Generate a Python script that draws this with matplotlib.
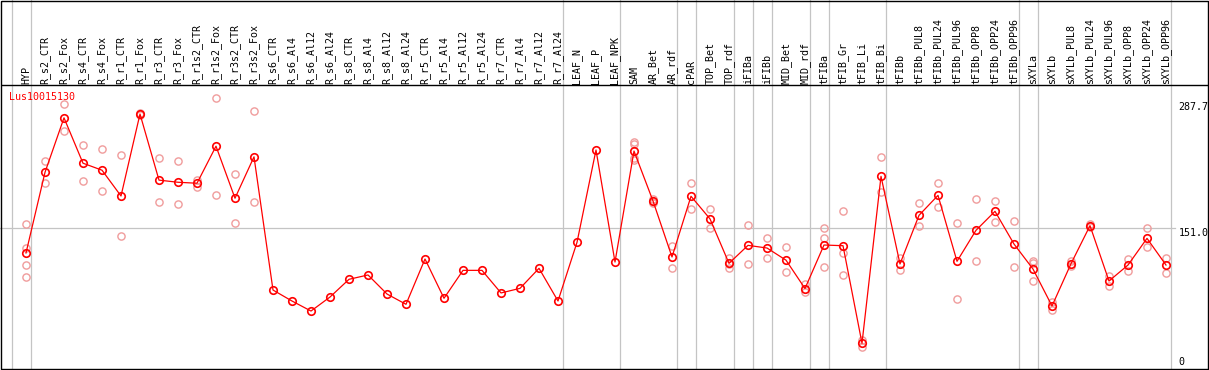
import matplotlib
matplotlib.use("Agg")
import matplotlib.pyplot as plt

# ---------------- data ----------------
categories = ["HYP", "R_s2_CTR", "R_s2_Fox", "R_s4_CTR", "R_s4_Fox", "R_r1_CTR", "R_r1_Fox",
              "R_r3_CTR", "R_r3_Fox", "R_r1s2_CTR", "R_r1s2_Fox", "R_r3s2_CTR", "R_r3s2_Fox",
              "R_s6_CTR", "R_s6_Al4", "R_s6_Al12", "R_s6_Al24", "R_s8_CTR", "R_s8_Al4",
              "R_s8_Al12", "R_s8_Al24", "R_r5_CTR", "R_r5_Al4", "R_r5_Al12", "R_r5_Al24",
              "R_r7_CTR", "R_r7_Al4", "R_r7_Al12", "R_r7_Al24", "LEAF_N", "LEAF_P", "LEAF_NPK",
              "SAM", "AR_Bet", "AR_rdf", "cPAR", "TOP_Bet", "TOP_rdf", "iFIBa", "iFIBb",
              "MID_Bet", "MID_rdf", "tFIBa", "tFIB_Gr", "tFIB_Li", "tFIB_Bi", "tFIBb",
              "tFIBb_PUL8", "tFIBb_PUL24", "tFIBb_PUL96", "tFIBb_OPP8", "tFIBb_OPP24",
              "tFIBb_OPP96", "sXYLa", "sXYLb", "sXYLb_PUL8", "sXYLb_PUL24", "sXYLb_PUL96",
              "sXYLb_OPP8", "sXYLb_OPP24", "sXYLb_OPP96"]

mean_values = [123.0, 214.0, 275.5, 224.3, 216.4, 187.3, 279.8, 205.2, 202.8, 201.7, 243.5,
               184.8, 231.5, 81.2, 68.8, 57.5, 73.3, 93.3, 98.2, 76.7, 65.1, 116.2, 71.9,
               103.4, 103.4, 77.9, 83.1, 105.7, 68.8, 135.0, 239.2, 112.8, 238.0, 181.7,
               118.5, 187.0, 161.5, 111.3, 131.6, 128.6, 114.9, 82.9, 132.0, 131.2, 21.1,
               209.5, 110.6, 165.5, 188.0, 113.6, 148.6, 170.0, 133.1, 104.9, 63.2, 110.9,
               153.8, 91.4, 109.4, 139.5, 109.4]

replicates = [
    [155.3, 129.0, 109.4, 95.5], [226.8, 201.6], [290.7, 260.3], [244.5, 204.2],
    [240.0, 193.0], [233.2, 141.8], [281.0, 279.0], [229.8, 180.2], [226.8, 177.9],
    [205.7, 197.1], [297.5, 188.0], [212.1, 156.5], [282.8, 180.5],
    [], [], [], [], [], [], [], [], [], [], [], [], [], [], [], [], [], [], [],
    [248.6, 245.6, 229.8, 228.0], [184.0, 181.0, 179.0], [130.9, 105.7], [202.0, 172.3],
    [172.6, 150.8], [117.7, 105.7, 111.0], [154.6, 110.2], [139.9, 117.0],
    [129.4, 101.2], [88.0, 78.6], [151.2, 139.9, 107.2], [170.4, 122.6, 97.8],
    [24.8, 17.3], [231.0, 191.5], [117.0, 103.8], [179.0, 153.4], [201.6, 174.5],
    [156.5, 70.7], [183.5, 113.6], [181.3, 157.6], [159.1, 107.2], [114.3, 111.3, 91.4],
    [67.7, 58.7], [114.0, 108.0], [155.3, 152.3], [97.0, 85.4], [116.2, 102.7],
    [150.8, 129.4], [117.3, 100.1],
]

# index of last category in each group (group separators drawn after these)
group_ends = [-1, 0, 28, 31, 34, 35, 37, 38, 39, 41, 42, 45, 52, 53, 60]

gene_name = "Lus10015130"
axis_labels = [("287.7", 287.7), ("151.0", 151.0), ("0", 0.0)]
grid_value = 151.0

# ---------------- layout ----------------
W, H = 1209, 370
X0, DX = 26.0, 19.0          # pixel x of first category, spacing
Y0, DY = 362.0, 0.8863       # pixel y of value 0, pixels per unit


def px_x(p):
    return (p - X0) / DX


def px_y(p):
    return (Y0 - p) / DY


fig = plt.figure(figsize=(W / 100, H / 100), dpi=100)
ax = fig.add_axes([0, 0, 1, 1])
ax.set_xlim(px_x(0), px_x(W))
ax.set_ylim(px_y(H), px_y(0))
ax.axis("off")

MONO = "DejaVu Sans Mono"
FS = 7.2
GRID = "#c4c4c4"

# group separator lines
for g in group_ends:
    ax.plot([g + 0.24, g + 0.24], [px_y(0), px_y(369)], color=GRID, lw=0.9, zorder=1)

# horizontal grid line
ax.plot([px_x(0), px_x(1175)], [grid_value, grid_value], color=GRID, lw=0.9, zorder=1)

# frame
frame_kw = dict(color="black", lw=1.0, zorder=5, solid_capstyle="butt")
ax.plot([px_x(1), px_x(1), px_x(1207.5), px_x(1207.5), px_x(1)],
        [px_y(0.6), px_y(368.7), px_y(368.7), px_y(0.6), px_y(0.6)], **frame_kw)
ax.plot([px_x(1), px_x(1207.5)], [px_y(85), px_y(85)], **frame_kw)

# header labels
for i, lab in enumerate(categories):
    ax.text(i, px_y(83.5), lab, rotation=90, ha="center", va="bottom",
            fontsize=FS, family=MONO, color="black", zorder=4)

# title
ax.text(px_x(9), px_y(97), gene_name, ha="left", va="center", fontsize=FS,
        family=MONO, color="red", zorder=4)

# right axis labels
for txt, v in axis_labels:
    if txt == "151.0":
        ax.text(px_x(1178.5), v, txt, ha="left", va="top", fontsize=FS, family=MONO, zorder=4)
    else:
        ax.text(px_x(1178.5), v, txt, ha="left", va="center", fontsize=FS, family=MONO, zorder=4)

# replicate points
rx, ry = [], []
for i, reps in enumerate(replicates):
    for r in reps:
        rx.append(i)
        ry.append(r)
ax.plot(rx, ry, linestyle="none", marker="o", markersize=5.2, markerfacecolor="none",
        markeredgecolor="#f09c9c", markeredgewidth=1.0, zorder=2)

# mean line
xs = list(range(len(categories)))
ax.plot(xs, mean_values, color="red", lw=0.9, zorder=3)
ax.plot(xs, mean_values, linestyle="none", marker="o", markersize=5.4, markerfacecolor="none",
        markeredgecolor="red", markeredgewidth=1.2, zorder=3)

fig.savefig("out.png", dpi=100)
